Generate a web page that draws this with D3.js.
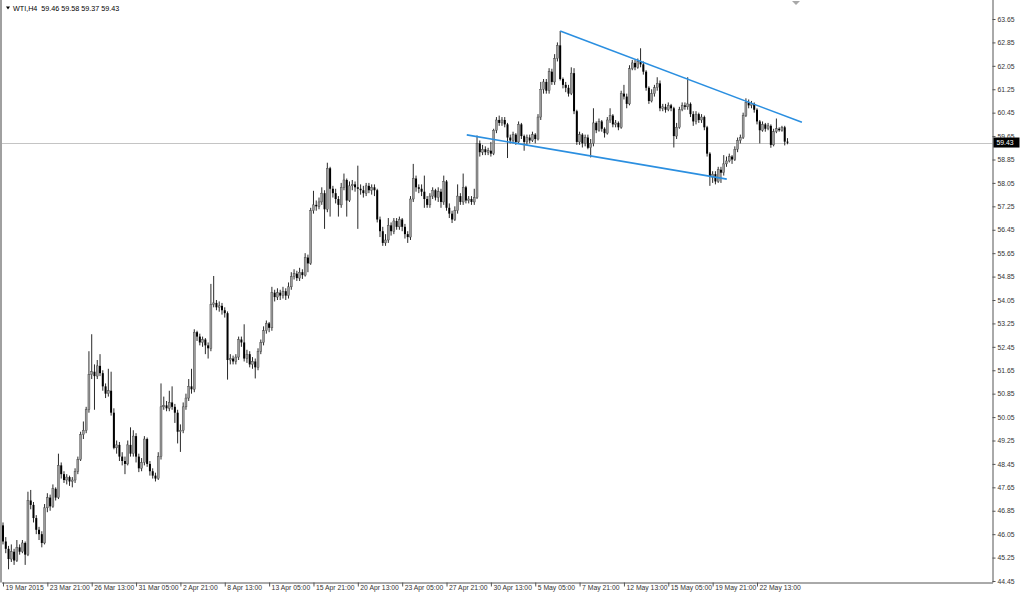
<!DOCTYPE html>
<html><head><meta charset="utf-8">
<script src="https://cdn.jsdelivr.net/npm/d3@7"></script>
<style>html,body{margin:0;padding:0;background:#fff;overflow:hidden}</style>
</head><body><svg id="c" width="1024" height="597"></svg>
<script>
const symbolTitle = "WTI,H4";
const lastQuote = [59.46, 59.58, 59.37, 59.43];
const currentPrice = 59.43;

const opens = [
46.35,45.80,45.55,45.20,45.45,45.15,45.60,45.45,45.75,45.35,
47.20,47.05,46.60,46.20,46.05,45.75,46.95,47.30,47.00,47.60,
47.30,48.40,48.10,47.90,48.00,47.85,47.90,48.20,48.60,49.45,
49.60,50.30,51.50,51.60,51.45,51.80,51.55,51.10,50.85,50.95,
50.20,49.00,49.10,48.70,48.55,48.45,49.10,48.80,49.40,48.70,
48.30,48.50,49.30,48.45,48.20,48.05,47.95,48.70,50.40,50.45,
50.35,50.55,50.40,50.20,49.55,49.60,50.40,50.70,51.10,51.00,
52.95,52.80,52.60,52.70,52.50,52.40,53.90,53.95,53.80,53.85,
53.70,53.60,52.00,52.05,51.95,52.10,52.70,52.60,52.05,52.20,
51.85,51.95,51.75,52.30,52.60,53.00,53.25,53.10,54.30,54.15,
54.30,54.20,54.35,54.20,54.50,54.85,54.95,54.80,55.00,54.90,
55.50,55.30,57.10,57.30,57.25,57.40,57.70,57.15,58.55,57.85,
57.70,57.50,57.30,57.90,58.15,57.45,57.95,58.00,57.90,57.85,
57.80,57.70,57.95,57.80,57.90,57.80,56.80,56.40,56.00,56.10,
56.60,56.40,56.75,56.55,56.80,56.55,56.30,56.20,57.50,58.20,
57.90,57.85,57.75,57.50,57.30,57.60,57.80,57.55,57.75,57.40,
58.10,57.20,57.00,56.80,57.10,57.60,57.40,57.90,57.45,57.50,
57.40,57.55,59.40,59.10,59.20,59.10,59.15,59.05,59.85,60.20,
60.10,60.20,60.05,59.60,59.50,59.70,59.45,60.05,59.65,59.45,
59.60,59.50,59.70,59.55,60.30,61.25,61.50,61.20,61.85,61.50,
62.30,62.75,61.60,61.40,61.30,61.10,61.80,60.50,59.45,59.70,
59.40,59.60,59.25,59.40,60.10,59.85,60.15,59.90,59.75,60.20,
60.35,60.05,60.10,59.95,61.10,61.00,60.75,61.95,62.15,62.00,
62.20,62.10,61.85,61.30,60.85,61.10,61.30,61.45,60.60,60.65,
60.55,60.70,60.60,59.65,59.95,60.55,60.70,60.65,60.75,60.40,
60.15,60.40,60.20,60.30,59.95,59.05,58.25,58.35,58.10,58.50,
58.40,58.70,58.80,58.95,58.85,59.20,59.50,59.60,60.35,60.80,
60.70,60.75,60.55,60.15,59.85,60.05,59.90,60.00,59.35,59.80,
59.90,59.85,59.95,59.46];

const highs = [
46.45,45.95,45.65,45.70,45.55,45.85,45.70,45.85,45.80,47.50,
47.56,47.15,46.70,46.30,46.15,47.08,47.45,47.40,47.75,47.65,
48.80,48.50,48.20,48.10,48.05,48.00,48.30,48.70,49.55,49.90,
50.40,52.30,52.88,51.85,52.00,52.20,51.65,51.20,51.70,51.60,
50.35,49.25,49.20,48.85,48.70,49.25,49.70,49.60,49.50,48.80,
48.65,49.40,49.35,48.55,48.30,48.15,48.85,51.20,50.75,50.60,
50.95,51.10,50.50,50.30,49.80,50.55,50.85,51.35,51.70,53.05,
53.00,52.90,52.80,52.75,52.60,54.60,54.87,54.05,54.00,53.95,
53.80,53.66,52.20,52.15,52.20,52.80,52.80,53.22,52.35,52.30,
52.10,52.05,52.40,52.70,53.15,53.35,53.30,54.50,54.40,54.45,
54.40,54.50,54.45,54.65,55.00,55.10,55.05,55.15,55.10,55.65,
55.60,57.20,57.78,57.45,57.55,57.90,57.80,58.74,58.60,57.95,
57.85,57.60,58.05,58.37,58.20,58.10,58.15,58.10,58.64,58.00,
57.95,58.05,58.05,58.00,58.00,57.85,56.90,56.55,56.30,56.85,
56.70,56.85,56.85,56.90,56.85,56.65,56.40,57.60,58.70,58.30,
58.00,58.00,58.30,57.60,57.70,57.90,57.85,57.90,57.85,58.30,
58.15,57.35,57.10,57.25,58.00,57.70,58.37,57.95,57.60,57.60,
57.85,59.67,59.50,59.35,59.30,59.25,59.45,59.90,60.30,60.35,
60.30,60.30,60.10,59.70,59.80,59.75,60.15,60.10,59.70,59.70,
59.70,59.80,59.75,60.40,61.50,61.60,61.60,61.97,61.95,62.45,
62.85,63.24,61.65,61.50,61.40,62.00,61.97,60.55,59.80,59.75,
59.70,59.70,59.55,60.60,60.15,60.25,60.20,59.95,60.30,60.60,
60.40,60.20,60.15,61.20,61.40,61.10,62.07,62.25,62.25,62.30,
62.65,62.20,61.90,61.35,61.25,61.40,61.66,61.55,60.75,60.75,
60.80,60.75,60.65,60.10,60.65,60.80,60.80,61.66,60.80,60.50,
60.50,60.45,60.40,60.35,60.00,59.10,58.45,58.45,58.60,58.60,
59.00,58.95,59.05,59.00,59.30,59.60,59.70,60.45,60.94,60.90,
60.85,60.80,60.60,60.20,60.15,60.10,60.10,60.05,59.90,60.25,
59.95,60.00,60.00,59.58];

const lows = [
45.70,45.40,44.85,45.10,45.00,45.10,45.35,45.40,45.00,45.30,
46.90,46.45,46.05,45.85,45.60,45.70,46.80,46.85,46.95,47.20,
47.25,47.95,47.80,47.75,47.70,47.65,47.80,48.10,48.55,49.30,
49.50,50.20,51.35,50.30,51.35,51.45,50.95,50.70,50.75,50.10,
48.95,48.80,48.55,48.40,48.10,48.40,48.70,48.70,48.50,48.17,
48.20,48.40,48.35,48.05,47.95,47.85,47.90,48.60,50.30,50.25,
50.25,50.30,49.85,49.15,48.86,49.50,50.30,50.60,50.85,50.90,
52.65,52.50,52.45,52.20,52.05,52.30,53.80,53.70,53.65,53.55,
53.45,51.33,51.85,51.85,51.85,52.00,52.45,51.95,51.90,51.75,
51.70,51.37,51.65,52.20,52.50,52.90,52.95,53.00,54.00,54.05,
54.05,54.10,54.05,54.10,54.40,54.75,54.70,54.70,54.77,54.85,
55.00,55.25,57.00,57.10,57.15,57.30,56.48,57.05,56.90,57.55,
57.35,56.90,57.20,57.80,56.90,57.40,57.80,57.75,56.48,57.65,
57.55,57.60,57.70,57.65,57.60,56.70,56.20,55.90,55.90,56.00,
56.25,56.30,56.45,56.45,56.40,56.15,56.00,56.10,57.40,57.75,
57.70,57.60,57.20,57.20,57.20,57.50,57.45,57.40,57.20,57.30,
57.10,56.85,56.68,56.75,57.00,57.30,57.30,57.35,57.35,57.30,
57.30,57.50,58.95,59.00,59.00,59.00,58.95,59.00,59.75,60.00,
60.00,59.95,58.90,59.40,59.40,59.35,59.40,59.55,59.15,59.35,
59.40,59.45,59.40,59.50,60.20,61.10,61.10,61.10,61.40,61.40,
62.20,61.55,61.28,61.15,61.00,61.05,60.40,59.35,59.35,59.26,
59.30,59.20,58.92,59.30,59.75,59.80,59.80,59.60,59.70,60.10,
59.95,59.95,59.85,59.90,60.90,60.60,60.70,61.90,61.90,61.95,
62.00,61.75,61.20,60.75,60.80,61.00,61.20,60.50,60.50,60.45,
60.50,60.50,59.26,59.55,59.90,60.50,60.55,60.55,60.30,60.00,
60.05,60.10,60.10,59.85,58.95,57.95,58.05,58.00,58.05,58.05,
58.30,58.60,58.75,58.70,58.80,59.10,59.40,59.55,60.30,60.60,
60.60,60.45,60.05,59.40,59.80,59.80,59.85,59.25,59.30,59.75,
59.80,59.80,59.33,59.37];

const closes = [
45.80,45.55,45.20,45.45,45.15,45.60,45.45,45.75,45.35,47.20,
47.05,46.60,46.20,46.05,45.75,46.95,47.30,47.00,47.60,47.30,
48.40,48.10,47.90,48.00,47.85,47.90,48.20,48.60,49.45,49.60,
50.30,51.50,51.60,51.45,51.80,51.55,51.10,50.85,50.95,50.20,
49.00,49.10,48.70,48.55,48.45,49.10,48.80,49.40,48.70,48.30,
48.50,49.30,48.45,48.20,48.05,47.95,48.70,50.40,50.45,50.35,
50.55,50.40,50.20,49.55,49.60,50.40,50.70,51.10,51.00,52.95,
52.80,52.60,52.70,52.50,52.40,53.90,53.95,53.80,53.85,53.70,
53.60,52.00,52.05,51.95,52.10,52.70,52.60,52.05,52.20,51.85,
51.95,51.75,52.30,52.60,53.00,53.25,53.10,54.30,54.15,54.30,
54.20,54.35,54.20,54.50,54.85,54.95,54.80,55.00,54.90,55.50,
55.30,57.10,57.30,57.25,57.40,57.70,57.15,58.55,57.85,57.70,
57.50,57.30,57.90,58.15,57.45,57.95,58.00,57.90,57.85,57.80,
57.70,57.95,57.80,57.90,57.80,56.80,56.40,56.00,56.10,56.60,
56.40,56.75,56.55,56.80,56.55,56.30,56.20,57.50,58.20,57.90,
57.85,57.75,57.50,57.30,57.60,57.80,57.55,57.75,57.40,58.10,
57.20,57.00,56.80,57.10,57.60,57.40,57.90,57.45,57.50,57.40,
57.55,59.40,59.10,59.20,59.10,59.15,59.05,59.85,60.20,60.10,
60.20,60.05,59.60,59.50,59.70,59.45,60.05,59.65,59.45,59.60,
59.50,59.70,59.55,60.30,61.25,61.50,61.20,61.85,61.50,62.30,
62.75,61.60,61.40,61.30,61.10,61.80,60.50,59.45,59.70,59.40,
59.60,59.25,59.40,60.10,59.85,60.15,59.90,59.75,60.20,60.35,
60.05,60.10,59.95,61.10,61.00,60.75,61.95,62.15,62.00,62.20,
62.10,61.85,61.30,60.85,61.10,61.30,61.45,60.60,60.65,60.55,
60.70,60.60,59.65,59.95,60.55,60.70,60.65,60.75,60.40,60.15,
60.40,60.20,60.30,59.95,59.05,58.25,58.35,58.10,58.50,58.40,
58.70,58.80,58.95,58.85,59.20,59.50,59.60,60.35,60.80,60.70,
60.75,60.55,60.15,59.85,60.05,59.90,60.00,59.35,59.80,59.90,
59.85,59.95,59.46,59.43];

const priceTicks = [63.65,62.85,62.05,61.25,60.45,59.65,58.85,58.05,57.25,56.45,55.65,54.85,54.05,53.25,52.45,51.65,50.85,50.05,49.25,48.45,47.65,46.85,46.05,45.25,44.45];
const timeLabels = ["19 Mar 2015","23 Mar 21:00","26 Mar 13:00","31 Mar 05:00","2 Apr 21:00","8 Apr 13:00","13 Apr 05:00","15 Apr 21:00","20 Apr 13:00","23 Apr 05:00","27 Apr 21:00","30 Apr 13:00","5 May 05:00","7 May 21:00","12 May 13:00","15 May 05:00","19 May 21:00","22 May 13:00"];
const timeLabelBars = [0,16,32,48,64,80,96,112,128,144,160,176,192,208,224,240,256,272];

// trendline anchors: [bar index, price]
const upperTrend = [[201, 63.24], [288.2, 60.12]];
const lowerTrend = [[167.3, 59.69], [261.1, 58.18]];

const W = 1024, H = 597;
const axisX = 992.5, axisY = 582.5;
const svg = d3.select("#c");
svg.append("rect").attr("width", W).attr("height", H).attr("fill", "#fff");

const x = d3.scaleLinear().domain([0, 272]).range([3, 757]);
const y = d3.scaleLinear().domain([44.45, 63.65]).range([581, 19]);

const FONT = "'Liberation Sans', Arial, sans-serif";
const AX_FS = 6.8;

// left border
svg.append("line").attr("x1", 1).attr("x2", 1).attr("y1", 0).attr("y2", axisY)
  .attr("stroke", "#a0a0a0").attr("stroke-width", 2);

// current price line
svg.append("line").attr("x1", 2).attr("x2", axisX).attr("y1", Math.round(y(currentPrice)) + 0.5).attr("y2", Math.round(y(currentPrice)) + 0.5)
  .attr("stroke", "#c4c4c4").attr("stroke-width", 1);

// candles
const idx = d3.range(closes.length);
const cg = svg.append("g");
cg.selectAll("line.wick").data(idx).join("line").attr("class", "wick")
  .attr("x1", i => x(i)).attr("x2", i => x(i))
  .attr("y1", i => y(highs[i])).attr("y2", i => y(lows[i]))
  .attr("stroke", "#2a2a2a").attr("stroke-width", 1);
cg.selectAll("rect.body").data(idx).join("rect").attr("class", "body")
  .attr("x", i => x(i) - 1).attr("width", 2)
  .attr("y", i => y(Math.max(opens[i], closes[i])))
  .attr("height", i => Math.max(1, Math.abs(y(opens[i]) - y(closes[i]))))
  .attr("fill", i => closes[i] >= opens[i] ? "#9a9a9a" : "#000")
  .attr("stroke", i => closes[i] >= opens[i] ? "#3a3a3a" : "none")
  .attr("stroke-width", 0.4);

// trendlines
const tl = d3.line().x(d => x(d[0])).y(d => y(d[1]));
[upperTrend, lowerTrend].forEach(t => {
  svg.append("path").attr("d", tl(t)).attr("fill", "none")
    .attr("stroke", "#2b8fe0").attr("stroke-width", 1.6);
});

// price axis
const yAxis = d3.axisRight(y).tickValues(priceTicks).tickSize(3).tickPadding(2).tickFormat(d3.format(".2f"));
const ya = svg.append("g").attr("transform", `translate(${axisX},0)`).call(yAxis);
ya.select(".domain").attr("d", `M0.5,0V${axisY}`).attr("stroke", "#555");
ya.selectAll(".tick line").attr("stroke", "#555");
ya.selectAll(".tick text").attr("font-family", FONT).attr("font-size", AX_FS).attr("fill", "#333");

// time axis
const xAxis = d3.axisBottom(x).tickValues(timeLabelBars).tickSize(4).tickFormat((d, k) => timeLabels[k]);
const xa = svg.append("g").attr("transform", `translate(0,${axisY})`).call(xAxis);
xa.select(".domain").attr("d", `M2,0.5H${axisX + 0.5}`).attr("stroke", "#555");
xa.selectAll(".tick line").attr("stroke", "#555");
xa.selectAll(".tick text").attr("font-family", FONT).attr("font-size", AX_FS).attr("fill", "#333")
  .attr("text-anchor", "start").attr("dx", 2).attr("y", 3).attr("dy", "0.71em");

// current price label box
const py = y(currentPrice);
svg.append("rect").attr("x", axisX + 1).attr("y", py - 5).attr("width", 26).attr("height", 10).attr("fill", "#000");
svg.append("text").attr("x", axisX + 4).attr("y", py + 2.6).text(d3.format(".2f")(currentPrice))
  .attr("font-family", FONT).attr("font-size", AX_FS).attr("fill", "#fff");

// header
svg.append("path").attr("d", "M6,6.5L10,6.5L8,9.5Z").attr("fill", "#000");
svg.append("text").attr("x", 13).attr("y", 11).attr("font-family", FONT).attr("font-size", 7.2).attr("fill", "#000")
  .attr("xml:space", "preserve").style("white-space", "pre")
  .text(symbolTitle + "  " + lastQuote.map(d3.format(".2f")).join(" "));

// shift marker
svg.append("path").attr("d", "M792,1L800,1L796,5Z").attr("fill", "#a8a8a8");
</script></body></html>
